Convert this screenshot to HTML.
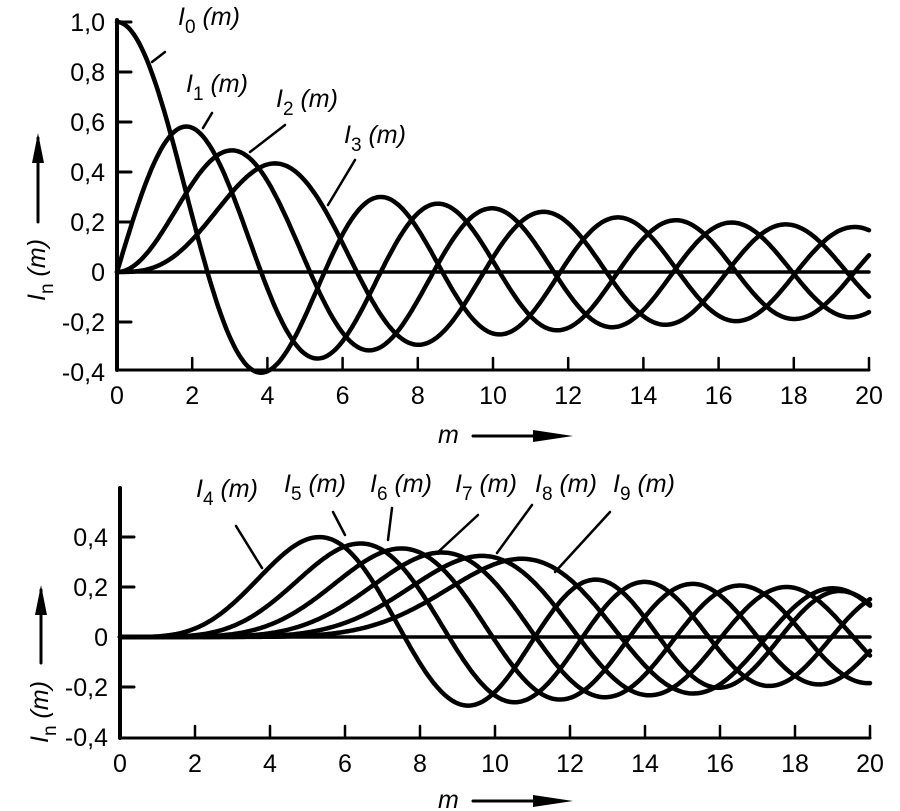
<!DOCTYPE html>
<html><head><meta charset="utf-8"><style>
body{margin:0;background:#fff}
svg{display:block}
</style></head><body>
<svg id="s" width="900" height="811" viewBox="0 0 900 811" xmlns="http://www.w3.org/2000/svg" font-family="Liberation Sans, Arial, sans-serif" font-size="25">
<g id="g" fill="none" stroke="#000" stroke-linecap="round" stroke-linejoin="round"></g>
<g id="t" fill="#000"></g>
</svg>
<script>
function J(n,x){var N=200,s=0;for(var i=0;i<=N;i++){var t=Math.PI*i/N;var w=(i==0||i==N)?0.5:1;s+=w*Math.cos(n*t-x*Math.sin(t));}return s/N;}
var NS='http://www.w3.org/2000/svg';
var g=document.getElementById('g'),T=document.getElementById('t');
function el(p,a,txt){var e=document.createElementNS(NS,p);for(var k in a)e.setAttribute(k,a[k]);if(txt!=null)e.textContent=txt;(p=='text'?T:g).appendChild(e);return e;}
function chart(x0,x1,y0,pxPer02,yTop,yBot,ns,yt){
  var sx=(x1-x0)/20, sy=pxPer02/0.2;
  el('line',{x1:x0,y1:yTop,x2:x0,y2:yBot,'stroke-width':4});
  el('line',{x1:x0,y1:yBot,x2:x1,y2:yBot,'stroke-width':3});
  el('line',{x1:x0,y1:y0,x2:x1,y2:y0,'stroke-width':3.5});
  yt.forEach(function(v){var y=y0-v*sy;if(Math.abs(v)>1e-9&&Math.abs(v+0.4)>1e-9)el('line',{x1:x0,y1:y,x2:x0+14,y2:y,'stroke-width':3});
    el('text',{x:x0-12,y:y+9,'text-anchor':'end'},(v<0?'-':'')+(Math.abs(v)<1e-9?'0':Math.abs(v).toFixed(1).replace('.',',')));});
  for(var m=0;m<=20;m+=2){var x=x0+m*sx;if(m>0)el('line',{x1:x,y1:yBot,x2:x,y2:yBot-12,'stroke-width':2.5});
    el('text',{x:x,y:yBot+34,'text-anchor':'middle'},m);}
  ns.forEach(function(n){var d='';for(var i=0;i<=400;i++){var m=20*i/400;var v=J(n,m);d+=(i?'L':'M')+(x0+m*sx).toFixed(1)+' '+(y0-v*sy).toFixed(1);}
    el('path',{d:d,'stroke-width':4.5});});
}
chart(117,869,272,50,20,370,[0,1,2,3],[1,0.8,0.6,0.4,0.2,0,-0.2,-0.4]);
chart(120,870,637,50,488,738,[4,5,6,7,8,9],[0.4,0.2,0,-0.2,-0.4]);
function lab(x,y,n){var t=el('text',{x:x,y:y,'font-style':'italic'},'I');var s=document.createElementNS(NS,'tspan');s.setAttribute('dy','8');s.setAttribute('font-size','19');s.setAttribute('font-style','normal');s.textContent=n;t.appendChild(s);var s2=document.createElementNS(NS,'tspan');s2.setAttribute('dy','-8');s2.textContent=' (m)';t.appendChild(s2);}
lab(178,25,0);lab(186,92,1);lab(276,107,2);lab(344,143,3);
el('line',{x1:165,y1:52,x2:152,y2:62,'stroke-width':2.5});
el('line',{x1:212,y1:113,x2:203,y2:128,'stroke-width':2.5});
el('line',{x1:285,y1:125,x2:250,y2:152,'stroke-width':2.5});
el('line',{x1:355,y1:160,x2:328,y2:205,'stroke-width':2.5});
lab(196,497,4);lab(284,492,5);lab(370,492,6);lab(455,492,7);lab(535,492,8);lab(613,492,9);
el('line',{x1:236,y1:526,x2:262,y2:568,'stroke-width':2.5});
el('line',{x1:333,y1:512,x2:345,y2:535,'stroke-width':2.5});
el('line',{x1:392,y1:508,x2:388,y2:540,'stroke-width':2.5});
el('line',{x1:478,y1:515,x2:437,y2:553,'stroke-width':2.5});
el('line',{x1:532,y1:505,x2:497,y2:553,'stroke-width':2.5});
el('line',{x1:610,y1:512,x2:555,y2:572,'stroke-width':2.5});
function xt(x,y){el('text',{x:x,y:y,'font-style':'italic'},'m');el('line',{x1:x+35,y1:y-7,x2:x+100,y2:y-7,'stroke-width':3});el('polygon',{points:(x+95)+','+(y-13)+' '+(x+135)+','+(y-7)+' '+(x+95)+','+(y-1),fill:'#000',stroke:'none'});}
xt(438,443);xt(438,808);
function yt(cx,cy,ay1,ay2){var t=el('text',{x:0,y:0,'font-style':'italic',transform:'translate('+cx+','+cy+') rotate(-90)','text-anchor':'middle'},'I');var s=document.createElementNS(NS,'tspan');s.setAttribute('dy','8');s.setAttribute('font-size','19');s.setAttribute('font-style','normal');s.textContent='n';t.appendChild(s);var s2=document.createElementNS(NS,'tspan');s2.setAttribute('dy','-8');s2.textContent=' (m)';t.appendChild(s2);
 el('line',{x1:cx-7,y1:ay1,x2:cx-7,y2:ay2,'stroke-width':3});el('polygon',{points:(cx-13)+','+(ay2+25)+' '+(cx-7)+','+(ay2-5)+' '+(cx-1)+','+(ay2+25),fill:'#000',stroke:'none'});}
yt(45,270,222,138);yt(48,712,663,590);
</script>
</body></html>
